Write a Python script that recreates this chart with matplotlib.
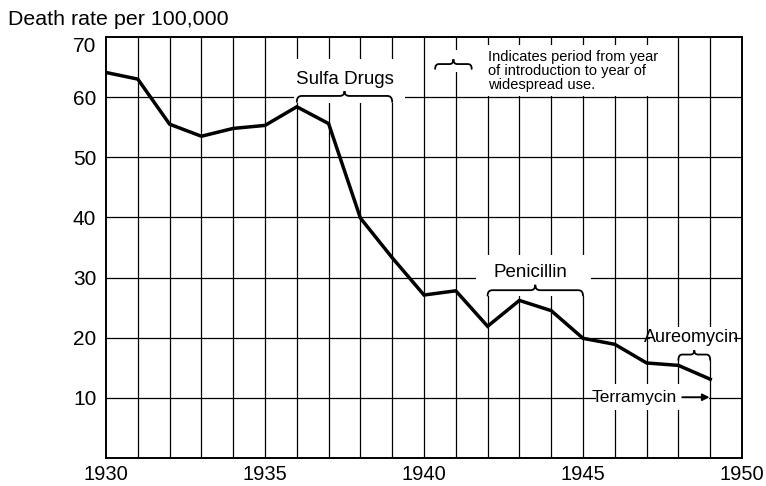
import matplotlib
matplotlib.use("Agg")
import matplotlib.pyplot as plt
from matplotlib.path import Path
from matplotlib.patches import PathPatch, Rectangle

# ---------------- data ----------------
years = [1930, 1931, 1932, 1933, 1934, 1935, 1936, 1937, 1938, 1939,
         1940, 1941, 1942, 1943, 1944, 1945, 1946, 1947, 1948, 1949]
death_rate = [64.1, 63.0, 55.5, 53.5, 54.8, 55.3, 58.4, 55.6, 39.9, 33.3,
              27.1, 27.8, 21.9, 26.2, 24.5, 19.9, 18.9, 15.8, 15.4, 13.1]

x_ticks = [1930, 1935, 1940, 1945, 1950]
y_ticks = [10, 20, 30, 40, 50, 60, 70]

drug_names = ["Sulfa Drugs", "Penicillin", "Aureomycin"]
drug_start = [1936, 1942, 1948]
drug_end = [1939, 1945, 1949]

title_text = "Death rate per 100,000"
legend_text = "Indicates period from year\nof introduction to year of\nwidespread use."
terramycin_label = "Terramycin"
terramycin_year = 1949

# ---------------- style ----------------
plt.rcParams["font.family"] = ["Liberation Sans", "DejaVu Sans"]

fig = plt.figure(figsize=(7.66, 4.86), dpi=100)
ax = fig.add_axes([106 / 766, 28 / 486, 636 / 766, 421 / 486])
ax.set_xlim(1930, 1950)
ax.set_ylim(0, 70)

# grid
for yr in range(1931, 1950):
    ax.axvline(yr, color="black", lw=0.9, zorder=1)
for v in range(10, 70, 10):
    ax.axhline(v, color="black", lw=0.9, zorder=1)

for s in ax.spines.values():
    s.set_linewidth(1.4)
    s.set_zorder(7)

ax.set_xticks(x_ticks)
ax.set_yticks(y_ticks)
ax.tick_params(axis="both", length=0)
ax.tick_params(axis="x", pad=5, labelsize=14.5)
ax.tick_params(axis="y", pad=7, labelsize=15)
ylabels = ax.get_yticklabels()
ylabels[-1].set_verticalalignment("top")

# data line
ax.plot(years, death_rate, color="black", lw=2.5, zorder=5,
        solid_joinstyle="miter")


def brace(x0, x1, y, down, up, r, lw=1.3):
    xm = (x0 + x1) / 2
    verts = [(x0, y - down), (x0, y), (x0 + r, y), (xm - r, y),
             (xm, y), (xm, y + up), (xm, y), (xm + r, y), (x1 - r, y),
             (x1, y), (x1, y - down)]
    codes = [Path.MOVETO, Path.CURVE3, Path.CURVE3, Path.LINETO,
             Path.CURVE3, Path.CURVE3, Path.CURVE3, Path.CURVE3, Path.LINETO,
             Path.CURVE3, Path.CURVE3]
    ax.add_patch(PathPatch(Path(verts, codes), fill=False, ec="black",
                           lw=lw, zorder=6, capstyle="round"))


def white(x0, y0, x1, y1):
    ax.add_patch(Rectangle((x0, y0), x1 - x0, y1 - y0, fc="white",
                           ec="none", zorder=2))


# Sulfa drugs
s0, s1 = drug_start[0], drug_end[0]
white(s0 - 0.1, 59.0, s1 + 0.4, 66.3)
brace(s0, s1, 60.2, 1.0, 0.8, 0.15)
ax.text((s0 + s1) / 2, 62.9, drug_names[0], ha="center", va="center",
        fontsize=13.5, zorder=6)

# Penicillin
p0, p1 = drug_start[1], drug_end[1]
white(p0 - 0.35, 27.0, p1 + 0.25, 33.8)
brace(p0, p1, 27.9, 0.9, 0.9, 0.15)
ax.text((p0 + p1) / 2 - 0.15, 30.8, drug_names[1], ha="center", va="center",
        fontsize=13.5, zorder=6)

# Aureomycin
a0, a1 = drug_start[2], drug_end[2]
white(a0 - 0.9, 16.3, a1 + 0.75, 21.8)
brace(a0, a1, 17.2, 0.9, 0.7, 0.12)
ax.text(a0 + 0.4, 20.0, drug_names[2], ha="center", va="center",
        fontsize=13, zorder=6)

# Terramycin
white(terramycin_year - 3.6, 8.0, terramycin_year - 0.03, 12.3)
ax.text(terramycin_year - 1.05, 10.1, terramycin_label, ha="right",
        va="center", fontsize=12.5, zorder=6)
ax.annotate("", xy=(terramycin_year - 0.02, 10.1),
            xytext=(terramycin_year - 0.88, 10.1),
            arrowprops=dict(arrowstyle="-|>", color="black", lw=1.4,
                            mutation_scale=10, shrinkA=0, shrinkB=0),
            zorder=6)

# Legend
white(1940.3, 64.1, 1941.6, 67.8)
brace(1940.35, 1941.5, 65.5, 0.8, 0.8, 0.12)
ax.text(1942.0, 64.4, legend_text, ha="left", va="center",
        fontsize=10.5, linespacing=1.0, zorder=6,
        bbox=dict(fc="white", ec="none", pad=3.5))

fig.text(8 / 766, (486 - 25) / 486, title_text, ha="left", va="baseline",
         fontsize=15.4)

fig.savefig("out.png", dpi=100)
